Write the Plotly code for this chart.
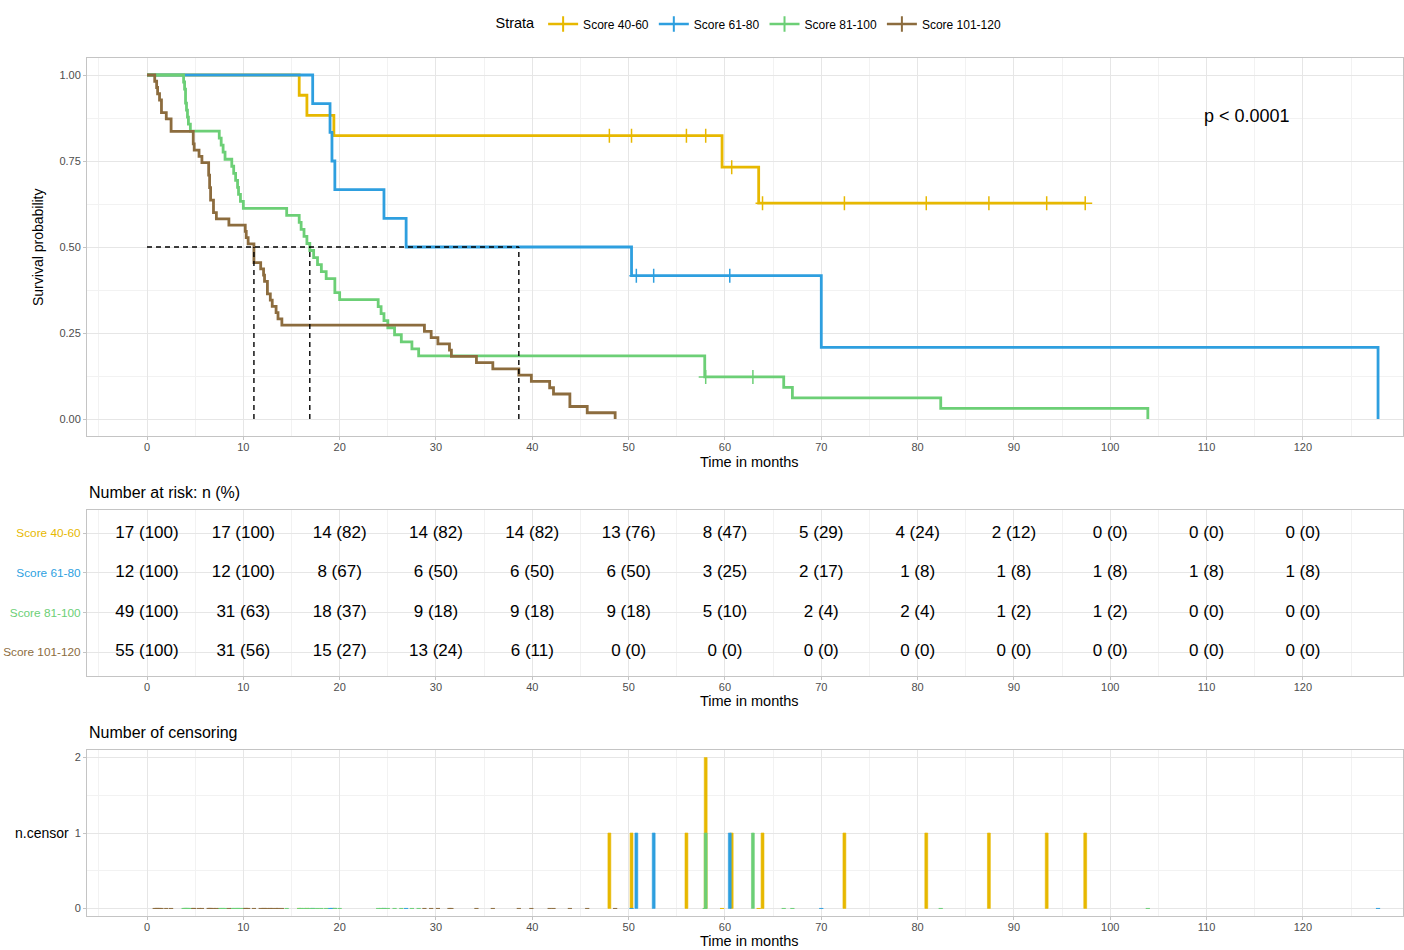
import plotly.graph_objects as go
from collections import Counter

# ---- data -------------------------------------------------------------
strata = ["Score 40-60", "Score 61-80", "Score 81-100", "Score 101-120"]
colors = ["#E7B800", "#2E9FDF", "#6CCF76", "#8C6C3E"]

# death times (months) per stratum
events_40_60 = [15.8, 16.6, 19.4, 59.7, 63.5]
events_61_80 = [17.2, 19.0, 19.2, 19.5, 24.6, 26.9, 50.3, 70.0, 127.8]
events_81_100 = [3.8, 3.9, 4.0, 4.0, 4.1, 4.2, 4.3, 4.5,
                 7.5, 7.7, 7.9, 8.1,
                 8.8, 9.0, 9.2, 9.4, 9.5, 9.7, 10.0,
                 14.5,
                 15.8, 16.0, 16.3, 16.6, 16.9, 17.3, 17.7, 18.1, 18.6,
                 19.5, 19.5, 20.0,
                 24.0, 24.3, 24.6, 25.0, 25.7, 26.4, 27.5, 28.2,
                 57.9, 57.9, 57.9, 66.1, 67.0, 82.4, 103.9]
events_101_120 = [0.8, 1.0, 1.1, 1.3, 1.5, 1.5, 2.0, 2.5, 2.5,
                  4.8, 4.8, 4.9, 5.4, 5.7,
                  6.4, 6.4, 6.5, 6.5, 6.6, 6.6, 6.9, 6.9, 7.2,
                  8.5,
                  10.2, 10.3, 10.5, 11.1, 11.1, 11.1, 11.8,
                  12.1, 12.2, 12.5, 12.5, 12.8, 13.0, 13.4, 13.6, 14.0,
                  28.8, 29.5, 30.2, 31.4, 31.6, 34.2, 35.9, 38.6, 39.9,
                  41.8, 42.2, 43.9, 43.9, 45.7, 48.6]

# censoring times (months) per stratum
censor_40_60 = [48.0, 50.3, 56.0, 58.0, 58.0, 60.7, 63.9, 72.4, 80.9, 87.4, 93.4, 97.4]
censor_61_80 = [50.8, 52.6, 60.5]
censor_81_100 = [58.0, 62.9]
censor_101_120 = []

# number at risk table
risk_times = [0, 10, 20, 30, 40, 50, 60, 70, 80, 90, 100, 110, 120]
risk_40_60 = [17, 17, 14, 14, 14, 13, 8, 5, 4, 2, 0, 0, 0]
risk_61_80 = [12, 12, 8, 6, 6, 6, 3, 2, 1, 1, 1, 1, 1]
risk_81_100 = [49, 31, 18, 9, 9, 9, 5, 2, 2, 1, 1, 0, 0]
risk_101_120 = [55, 31, 15, 13, 6, 0, 0, 0, 0, 0, 0, 0, 0]

p_label = "p < 0.0001"

all_events = [events_40_60, events_61_80, events_81_100, events_101_120]
all_censor = [censor_40_60, censor_61_80, censor_81_100, censor_101_120]
all_risk = [risk_40_60, risk_61_80, risk_81_100, risk_101_120]

FONT = "Liberation Sans, Arial, Helvetica, sans-serif"
W, H = 1404, 950
PL, PR = 87, 1403          # plot area left/right in px


def px_x(px):
    return (px - PL) / (PR - PL)


def px_y(py):
    return 1 - py / H


def kaplan_meier(ev, ce):
    n = len(ev) + len(ce)
    d, c = Counter(ev), Counter(ce)
    s, at_risk = 1.0, n
    xs, ys, cx, cy = [0.0], [1.0], [], []
    for t in sorted(set(ev) | set(ce)):
        if d[t]:
            s *= (at_risk - d[t]) / at_risk
        at_risk -= d[t] + c[t]
        xs.append(t)
        ys.append(s)
        if c[t]:
            cx.append(t)
            cy.append(s)
    return xs, ys, cx, cy


def median_time(xs, ys):
    for i in range(1, len(xs)):
        if ys[i] <= 0.5 + 1e-9:
            if abs(ys[i] - 0.5) < 1e-9:
                for j in range(i + 1, len(xs)):
                    if ys[j] < ys[i] - 1e-9:
                        return (xs[i] + xs[j]) / 2
            return xs[i]
    return None


fig = go.Figure()

# ---- survival curves ----------------------------------------------------
medians = []
for name, col, ev, ce in zip(strata, colors, all_events, all_censor):
    xs, ys, cx, cy = kaplan_meier(ev, ce)
    fig.add_trace(go.Scatter(x=xs, y=ys, mode="lines", line_shape="hv",
                             line=dict(color=col, width=2.8),
                             showlegend=False, hoverinfo="skip",
                             xaxis="x", yaxis="y"))
    if cx:
        fig.add_trace(go.Scatter(x=cx, y=cy, mode="markers",
                                 marker=dict(symbol="cross-thin-open", size=10,
                                             color=col,
                                             line=dict(color=col, width=1.5)),
                                 showlegend=False, hoverinfo="skip",
                                 xaxis="x", yaxis="y"))
    m = median_time(xs, ys)
    if m is not None:
        medians.append(m)

# median survival guide lines
if medians:
    fig.add_trace(go.Scatter(x=[0, max(medians)], y=[0.5, 0.5], mode="lines",
                             line=dict(color="black", width=1.4, dash="5px,4px"),
                             showlegend=False, hoverinfo="skip",
                             xaxis="x", yaxis="y"))
    vx, vy = [], []
    for m in medians:
        vx += [m, m, None]
        vy += [0, 0.5, None]
    fig.add_trace(go.Scatter(x=vx, y=vy, mode="lines",
                             line=dict(color="black", width=1.4, dash="5px,4px"),
                             showlegend=False, hoverinfo="skip",
                             xaxis="x", yaxis="y"))

# legend entries
for name, col in zip(strata, colors):
    fig.add_trace(go.Scatter(x=[None], y=[None], mode="lines+markers", name=name,
                             line=dict(color=col, width=2.6),
                             marker=dict(symbol="line-ns-open", size=11, color=col,
                                         line=dict(color=col, width=2)),
                             xaxis="x", yaxis="y"))

# ---- risk table ---------------------------------------------------------
for k, (name, risk) in enumerate(zip(strata, all_risk)):
    total = risk[0]
    labels = [f"{n} ({round(100 * n / total)})" for n in risk]
    fig.add_trace(go.Scatter(x=risk_times, y=[4 - k] * len(risk_times),
                             mode="text", text=labels,
                             textfont=dict(family=FONT, size=17, color="black"),
                             showlegend=False, hoverinfo="skip",
                             xaxis="x2", yaxis="y2"))

# ---- number of censoring ------------------------------------------------
for name, col, ev, ce in zip(strata, colors, all_events, all_censor):
    zero_t = sorted(set(ev) - set(ce))
    fig.add_trace(go.Scatter(x=zero_t, y=[0] * len(zero_t), mode="markers",
                             marker=dict(symbol="line-ew-open", size=3, color=col,
                                         line=dict(color=col, width=1)),
                             showlegend=False, hoverinfo="skip",
                             xaxis="x3", yaxis="y3"))
for name, col, ce in zip(strata, colors, all_censor):
    cnt = Counter(ce)
    t_sorted = sorted(cnt)
    if not t_sorted:
        continue
    fig.add_trace(go.Bar(x=t_sorted, y=[cnt[t] for t in t_sorted], width=0.3,
                         marker=dict(color=col, line=dict(color=col, width=0.6)),
                         showlegend=False, hoverinfo="skip",
                         xaxis="x3", yaxis="y3"))

# ---- axes ---------------------------------------------------------------
GRID = "#E6E6E6"
MINOR = "#F2F2F2"
BORDER = "#C4C4C4"
TICKFONT = dict(family=FONT, size=11, color="#4D4D4D")

xcommon = dict(range=[-6.23, 130.39], tickmode="array", tickvals=risk_times,
               ticks="outside", ticklen=3, tickcolor=BORDER, tickfont=TICKFONT,
               ticklabelstandoff=-2,
               showgrid=True, gridcolor=GRID, gridwidth=1,
               minor=dict(tickmode="linear", tick0=-5, dtick=10, showgrid=True,
                          gridcolor=MINOR, gridwidth=1, ticks=""),
               showline=True, linecolor=BORDER, linewidth=1, mirror=True,
               zeroline=False, automargin=False, domain=[0, 1])

dom_main = [px_y(436.2), px_y(57.8)]
dom_risk = [px_y(676), px_y(509.5)]
dom_cens = [px_y(916), px_y(750)]

fig.update_layout(
    xaxis=dict(xcommon, anchor="y"),
    xaxis2=dict(xcommon, anchor="y2"),
    xaxis3=dict(xcommon, anchor="y3"),
    yaxis=dict(domain=dom_main, anchor="x", range=[-0.05, 1.05],
               tickmode="array", tickvals=[0, 0.25, 0.5, 0.75, 1.0],
               ticktext=["0.00", "0.25", "0.50", "0.75", "1.00"],
               ticks="outside", ticklen=3, tickcolor=BORDER, tickfont=TICKFONT,
               showgrid=True, gridcolor=GRID,
               minor=dict(tickmode="array", tickvals=[0.125, 0.375, 0.625, 0.875],
                          showgrid=True, gridcolor=MINOR, ticks=""),
               showline=True, linecolor=BORDER, mirror=True, zeroline=False,
               automargin=False),
    yaxis2=dict(domain=dom_risk, anchor="x2", range=[0.4, 4.6],
                tickmode="array", tickvals=[4, 3, 2, 1],
                ticktext=[f'<span style="color:{c}">{s}</span>'
                          for s, c in zip(strata, colors)],
                ticks="outside", ticklen=3, tickcolor=BORDER,
                tickfont=dict(family=FONT, size=11.8),
                showgrid=True, gridcolor=GRID,
                showline=True, linecolor=BORDER, mirror=True, zeroline=False,
                automargin=False),
    yaxis3=dict(domain=dom_cens, anchor="x3", range=[-0.1, 2.1],
                tickmode="array", tickvals=[0, 1, 2],
                ticks="outside", ticklen=3, tickcolor=BORDER, tickfont=TICKFONT,
                showgrid=True, gridcolor=GRID,
                minor=dict(tickmode="array", tickvals=[0.5, 1.5],
                           showgrid=True, gridcolor=MINOR, ticks=""),
                showline=True, linecolor=BORDER, mirror=True, zeroline=False,
                automargin=False),
    barmode="overlay",
    width=W, height=H,
    margin=dict(l=PL, r=W - PR, t=0, b=0, autoexpand=False),
    paper_bgcolor="white", plot_bgcolor="white",
    font=dict(family=FONT, color="black"),
    legend=dict(orientation="h", x=px_x(750), xanchor="center",
                y=px_y(24), yanchor="middle",
                font=dict(family=FONT, size=12, color="black"),
                title=dict(text="Strata", font=dict(family=FONT, size=14.5)),
                itemwidth=30, tracegroupgap=0, bgcolor="rgba(0,0,0,0)"),
)

# ---- titles and labels --------------------------------------------------
ann = [
    dict(text="Survival probability", x=px_x(38), y=px_y(247), textangle=-90,
         font=dict(size=14)),
    dict(text="Time in months", x=px_x(749), y=px_y(462), font=dict(size=14.5)),
    dict(text="Number at risk: n (%)", x=0, xanchor="left", y=px_y(492),
         font=dict(size=16)),
    dict(text="Time in months", x=px_x(749), y=px_y(701), font=dict(size=14.5)),
    dict(text="Number of censoring", x=0, xanchor="left", y=px_y(732),
         font=dict(size=16)),
    dict(text="n.censor", x=px_x(71), xanchor="right", y=px_y(833),
         font=dict(size=14)),
    dict(text="Time in months", x=px_x(749), y=px_y(941), font=dict(size=14.5)),
]
for a in ann:
    a.setdefault("xanchor", "center")
    fig.add_annotation(xref="paper", yref="paper", yanchor="middle",
                       showarrow=False, **a)

fig.add_annotation(text=p_label, x=114.2, y=0.88, xref="x", yref="y",
                   showarrow=False, font=dict(size=18, color="black"))

fig.write_html("out.html")
